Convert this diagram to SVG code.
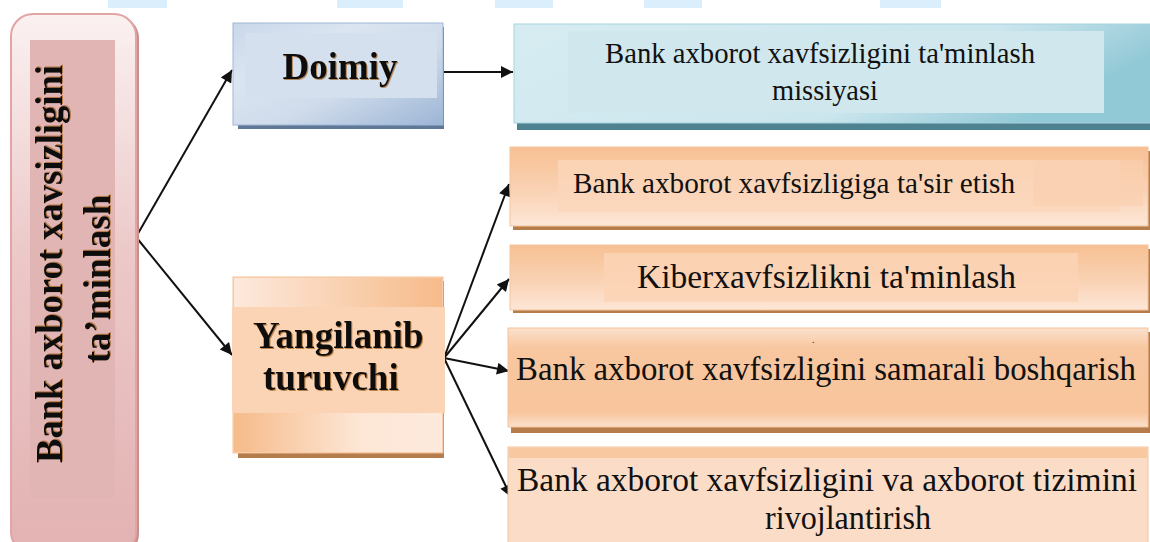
<svg xmlns="http://www.w3.org/2000/svg" width="1150" height="542" viewBox="0 0 1150 542">
<defs>
<style>
.bold{font-family:"Liberation Serif","Times New Roman",serif;font-weight:bold;fill:#111}
.reg{font-family:"Liberation Serif","Times New Roman",serif;fill:#111}
.conn{stroke:#111;stroke-width:2;fill:none}
.shO{fill:#b57c4c}
</style>
<linearGradient id="gPink" x1="0" y1="0" x2="0" y2="1">
<stop offset="0" stop-color="#fbf1f1"/><stop offset="0.45" stop-color="#ecc8c8"/><stop offset="1" stop-color="#e3b2b2"/>
</linearGradient>
<linearGradient id="gBlue" x1="0" y1="0" x2="1" y2="1">
<stop offset="0" stop-color="#c9d7ea"/><stop offset="0.3" stop-color="#dbe5f1"/><stop offset="0.6" stop-color="#cfdbeb"/><stop offset="1" stop-color="#9cb5d6"/>
</linearGradient>
<linearGradient id="gTeal" x1="0" y1="0" x2="1" y2="0.3">
<stop offset="0" stop-color="#d6ecf1"/><stop offset="0.7" stop-color="#cce6ee"/><stop offset="1" stop-color="#92c9d6"/>
</linearGradient>
<linearGradient id="gOr1" x1="0" y1="0" x2="0" y2="1">
<stop offset="0" stop-color="#f7c093"/><stop offset="0.6" stop-color="#fad4b7"/><stop offset="1" stop-color="#fde7d7"/>
</linearGradient>
<linearGradient id="gOr2" x1="0" y1="0" x2="0" y2="1">
<stop offset="0" stop-color="#fbe1cd"/><stop offset="0.2" stop-color="#f8c79f"/><stop offset="0.85" stop-color="#f8c59c"/><stop offset="1" stop-color="#fbe1cd"/>
</linearGradient>
<linearGradient id="gOrTop" x1="0" y1="0" x2="1" y2="0">
<stop offset="0" stop-color="#fde9dc"/><stop offset="1" stop-color="#f6bb8a"/>
</linearGradient>
<linearGradient id="gOrBot" x1="0" y1="0" x2="1" y2="0">
<stop offset="0" stop-color="#f6bb8a"/><stop offset="0.6" stop-color="#fde6d5"/><stop offset="1" stop-color="#fdeadd"/>
</linearGradient>
<filter id="tsh" x="-5%" y="-20%" width="110%" height="140%">
<feDropShadow dx="1" dy="1" stdDeviation="0.6" flood-color="#a0601c" flood-opacity="0.7"/>
</filter>
<marker id="arr" viewBox="0 0 10 10" refX="10" refY="5" markerWidth="7" markerHeight="6" markerUnits="strokeWidth" orient="auto">
<path d="M0,0 L10,5 L0,10 z" fill="#111"/>
</marker>
</defs>
<rect width="1150" height="542" fill="#ffffff"/>

<g id="topmarks" fill="#dbeefc">
<rect x="108" y="0" width="59" height="8"/>
<rect x="337" y="0" width="66" height="8"/>
<rect x="495" y="0" width="58" height="8"/>
<rect x="644" y="0" width="58" height="8"/>
<rect x="880" y="0" width="61" height="8"/>
</g>

<g id="connectors">
<line class="conn" x1="136" y1="237" x2="232" y2="70" marker-end="url(#arr)"/>
<line class="conn" x1="136" y1="237" x2="232" y2="355" marker-end="url(#arr)"/>
<line class="conn" x1="444" y1="72" x2="513" y2="72" marker-end="url(#arr)"/>
<line class="conn" x1="444" y1="358" x2="509" y2="184" marker-end="url(#arr)"/>
<line class="conn" x1="444" y1="358" x2="509" y2="279" marker-end="url(#arr)"/>
<line class="conn" x1="444" y1="358" x2="509" y2="371" marker-end="url(#arr)"/>
<line class="conn" x1="444" y1="358" x2="511" y2="497" marker-end="url(#arr)"/>
</g>

<g id="node-root">
<rect x="14" y="16" width="125" height="540" rx="22" fill="#c98f8f"/>
<rect x="11" y="14" width="125" height="540" rx="22" fill="url(#gPink)" stroke="#e2a4a4" stroke-width="2"/>
<rect x="30" y="40" width="85" height="458" fill="#e2b5b5"/>
<text class="bold" font-size="37" text-anchor="middle" textLength="398" lengthAdjust="spacingAndGlyphs" transform="translate(62,264) rotate(-90)" filter="url(#tsh)">Bank axborot xavsizligini</text>
<text class="bold" font-size="37" text-anchor="middle" transform="translate(110,279) rotate(-90)" filter="url(#tsh)">ta’minlash</text>
</g>

<g id="node-doimiy">
<rect x="238" y="27" width="206" height="102" fill="#5f7898"/>
<rect x="233" y="23" width="210" height="102" fill="url(#gBlue)" stroke="#9fb6d6" stroke-width="1"/>
<rect x="245" y="33" width="192" height="65" fill="#d5e0ee"/>
<text class="bold" x="340" y="79" font-size="37" text-anchor="middle" filter="url(#tsh)">Doimiy</text>
</g>

<g id="node-mission">
<rect x="517" y="28" width="640" height="102" fill="#4f8290"/>
<rect x="514" y="24" width="640" height="99" fill="url(#gTeal)" stroke="#a6d3de" stroke-width="1"/>
<rect x="568" y="31" width="536" height="82" fill="#d0e7ee"/>
<text class="reg" x="820" y="63" font-size="30" text-anchor="middle" textLength="430" lengthAdjust="spacingAndGlyphs">Bank axborot xavfsizligini ta'minlash</text>
<text class="reg" x="825" y="100" font-size="30" text-anchor="middle" textLength="106" lengthAdjust="spacingAndGlyphs">missiyasi</text>
</g>

<g id="node-yangilanib">
<rect class="shO" x="238" y="281" width="206" height="177"/>
<rect x="233" y="277" width="210" height="176" fill="#fbd6b9" stroke="#f6c096" stroke-width="1"/>
<rect x="234" y="278" width="208" height="29" fill="url(#gOrTop)"/>
<rect x="234" y="413" width="208" height="39" fill="url(#gOrBot)"/>
<rect x="232" y="307" width="213" height="106" fill="#fbd4b5"/>
<text class="bold" x="253" y="348" font-size="37" filter="url(#tsh)">Yangilanib</text>
<text class="bold" x="263" y="390" font-size="37" filter="url(#tsh)">turuvchi</text>
</g>

<g id="node-b1">
<rect class="shO" x="513" y="151" width="637" height="79"/>
<rect x="510" y="147" width="638" height="79" fill="url(#gOr1)" stroke="#f6c39c" stroke-width="1"/>
<rect x="558" y="160" width="562" height="52" fill="#fbd6ba" opacity="0.8"/>
<rect x="1033" y="160" width="110" height="46" fill="#fad0b0" opacity="0.7"/>
<text class="reg" x="573" y="193" font-size="30" textLength="442" lengthAdjust="spacingAndGlyphs">Bank axborot xavfsizligiga ta'sir etish</text>
</g>

<g id="node-b2">
<rect class="shO" x="513" y="249" width="637" height="64"/>
<rect x="510" y="245" width="638" height="65" fill="url(#gOr1)" stroke="#f6c39c" stroke-width="1"/>
<rect x="604" y="253" width="474" height="49" fill="#fbd3b5" opacity="0.85"/>
<text class="reg" x="637" y="288" font-size="33" textLength="379" lengthAdjust="spacingAndGlyphs">Kiberxavfsizlikni ta'minlash</text>
</g>

<g id="node-b3">
<rect class="shO" x="511" y="332" width="639" height="101"/>
<rect x="508" y="328" width="640" height="99" fill="url(#gOr2)" stroke="#f6c39c" stroke-width="1"/>
<text class="reg" x="812" y="343" font-size="10">.</text>
<text class="reg" x="516" y="380" font-size="33" textLength="620" lengthAdjust="spacingAndGlyphs">Bank axborot xavfsizligini samarali boshqarish</text>
</g>

<g id="node-b4">
<rect x="508" y="447" width="640" height="100" fill="#fbdcc6" stroke="#f6c39c" stroke-width="1"/>
<rect x="509" y="448" width="638" height="10" fill="#f8c8a0"/>
<text class="reg" x="517" y="491" font-size="34" textLength="620" lengthAdjust="spacingAndGlyphs">Bank axborot xavfsizligini va axborot tizimini</text>
<text class="reg" x="848" y="529" font-size="34" text-anchor="middle" textLength="166" lengthAdjust="spacingAndGlyphs">rivojlantirish</text>
</g>
</svg>
